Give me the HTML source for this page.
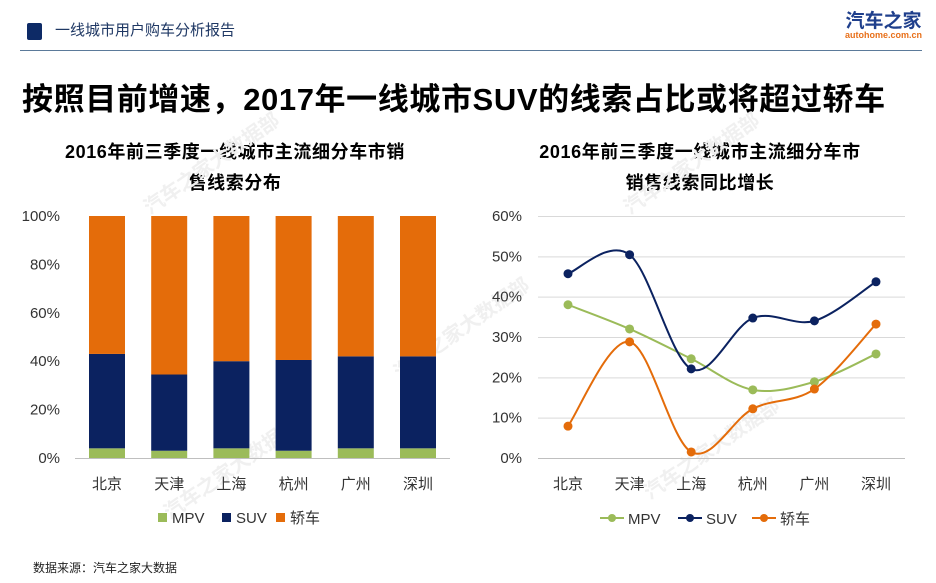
<!DOCTYPE html>
<html><head><meta charset="utf-8">
<style>
body{margin:0;width:936px;height:583px;background:#fff;overflow:hidden;font-family:"Liberation Sans","Noto Sans CJK SC",sans-serif;position:relative}
.abs{position:absolute}
</style></head><body>
<div class="abs" style="left:27px;top:23px;width:15px;height:17px;background:#0d2a66;border-radius:2px"></div>
<div class="abs" style="left:55px;top:20px;font-size:15px;color:#1f3864;line-height:22px">一线城市用户购车分析报告</div>
<div class="abs" style="left:845px;top:12px;text-align:center;line-height:1">
<div style="font-size:19px;font-weight:bold;color:#1f3f8c">汽车之家</div>
<div style="font-size:9px;color:#e8701a;font-weight:bold">autohome.com.cn</div></div>
<div class="abs" style="left:20px;top:50px;width:902px;height:1px;background:#5b7a9a"></div>
<div class="abs" style="left:22px;top:80px;font-size:31px;letter-spacing:0.6px;font-weight:bold;color:#000;line-height:40px">按照目前增速，2017年一线城市SUV的线索占比或将超过轿车</div>
<div class="abs" style="left:35px;top:137px;width:400px;text-align:center;font-size:18px;letter-spacing:0.6px;font-weight:bold;line-height:31px">2016年前三季度一线城市主流细分车市销<br>售线索分布</div>
<div class="abs" style="left:500px;top:137px;width:400px;text-align:center;font-size:18px;letter-spacing:0.6px;font-weight:bold;line-height:31px">2016年前三季度一线城市主流细分车市<br>销售线索同比增长</div>
<div class="abs" style="left:33px;top:559px;font-size:12px;color:#222">数据来源：汽车之家大数据</div>
<svg class="abs" style="left:0;top:0" width="936" height="583" id="svg"></svg>
<script>
const cities=["北京","天津","上海","杭州","广州","深圳"];
const shareMPV=[4,3,4,3,4,4];
const shareSUV=[39,31.5,36,37.5,38,38];
const shareSedan=[57,65.5,60,59.5,58,58];
const growthMPV=[38,32,24.6,16.9,18.9,25.8];
const growthSUV=[45.7,50.4,22.1,34.7,34,43.7];
const growthSedan=[7.9,28.8,1.5,12.2,17.1,33.2];
const leftTicks=["0%","20%","40%","60%","80%","100%"];
const rightTicks=["0%","10%","20%","30%","40%","50%","60%"];
const svg=document.getElementById('svg');
const NS="http://www.w3.org/2000/svg";
function mk(t,a,p){const e=document.createElementNS(NS,t);for(const k in a)e.setAttribute(k,a[k]);(p||svg).appendChild(e);return e;}
const C={mpv:"#9bbb59",suv:"#0b2260",sedan:"#e46c0a"};
[[150,215],[630,215],[400,380],[170,520],[650,500]].forEach(([x,y])=>{const t=mk('text',{x:x,y:y,transform:`rotate(-35 ${x} ${y})`,'font-size':20,fill:'#f0f0f0','font-weight':'bold'});t.textContent="汽车之家大数据部";

});
const ly=v=>458-v*2.42, lx=i=>107+i*62.2;
leftTicks.forEach((s,i)=>{const t=mk('text',{x:60,y:ly(i*20)+5,'text-anchor':'end','font-size':15,fill:'#333'});t.textContent=s;

});
const ax=mk('line',{x1:75,x2:450,y1:458.5,y2:458.5,stroke:'#bfbfbf'});


cities.forEach((c,i)=>{let b=0;[[shareMPV,C.mpv,'mpv'],[shareSUV,C.suv,'suv'],[shareSedan,C.sedan,'sedan']].forEach(([arr,col,n])=>{const v=arr[i];const r=mk('rect',{x:lx(i)-18,y:ly(b+v),width:36,height:v*2.42,fill:col});

b+=v;});
const t=mk('text',{x:lx(i),y:489,'text-anchor':'middle','font-size':15,fill:'#333'});t.textContent=c;

});
[[158,C.mpv,"MPV"],[222,C.suv,"SUV"],[276,C.sedan,"轿车"]].forEach(([x,col,l])=>{mk('rect',{x:x,y:513,width:9,height:9,fill:col});const t=mk('text',{x:x+14,y:523,'font-size':15,fill:'#333'});t.textContent=l;

});
const ry=v=>458-v*4.033, rx=i=>568+i*61.6;
rightTicks.forEach((s,i)=>{const y=ry(i*10);const g=mk('line',{x1:538,x2:905,y1:y+0.5,y2:y+0.5,stroke:i==0?'#bfbfbf':'#d9d9d9'});


const t=mk('text',{x:522,y:y+5,'text-anchor':'end','font-size':15,fill:'#333'});t.textContent=s;

});
cities.forEach((c,i)=>{const t=mk('text',{x:rx(i),y:489,'text-anchor':'middle','font-size':15,fill:'#333'});t.textContent=c;

});
function smooth(pts){let d=`M${pts[0][0]},${pts[0][1]}`;for(let i=0;i<pts.length-1;i++){const p0=pts[i-1]||pts[i],p1=pts[i],p2=pts[i+1],p3=pts[i+2]||p2;const k=1/6;d+=` C${p1[0]+(p2[0]-p0[0])*k},${p1[1]+(p2[1]-p0[1])*k} ${p2[0]-(p3[0]-p1[0])*k},${p2[1]-(p3[1]-p1[1])*k} ${p2[0]},${p2[1]}`;}return d;}
[[growthMPV,C.mpv,'mpv'],[growthSUV,C.suv,'suv'],[growthSedan,C.sedan,'sedan']].forEach(([arr,col,n])=>{const pts=arr.map((v,i)=>[rx(i),ry(v)]);const p=mk('path',{d:smooth(pts),fill:'none',stroke:col,'stroke-width':2});


pts.forEach(q=>{const m=mk('circle',{cx:q[0],cy:q[1],r:4.5,fill:col});

});});
[[600,C.mpv,"MPV"],[678,C.suv,"SUV"],[752,C.sedan,"轿车"]].forEach(([x,col,l])=>{mk('line',{x1:x,x2:x+24,y1:518,y2:518,stroke:col,'stroke-width':2});mk('circle',{cx:x+12,cy:518,r:4,fill:col});const t=mk('text',{x:x+28,y:524,'font-size':15,fill:'#333'});t.textContent=l;

});
</script>
</body></html>
